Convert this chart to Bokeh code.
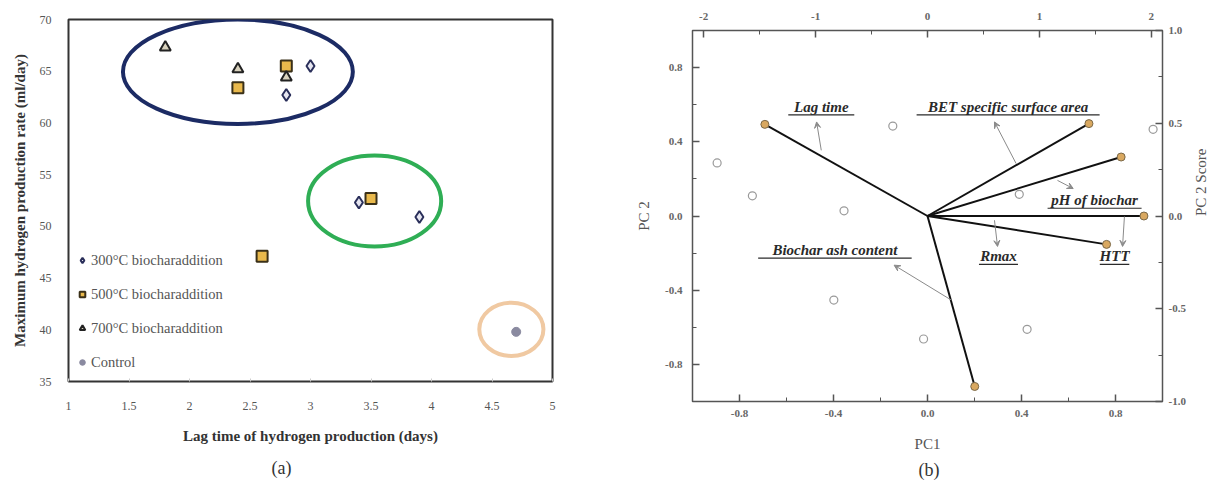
import math
from bokeh.plotting import figure
from bokeh.layouts import row
from bokeh.models import Range1d, LinearAxis, FixedTicker, Legend, LegendItem, Title, Arrow, VeeHead, ColumnDataSource
from bokeh.embed import file_html
from bokeh.resources import INLINE
from bokeh.core.properties import value

SERIF = "Liberation Serif"

# ---------------- panel (a) data ----------------
a_x_ticks = [1, 1.5, 2, 2.5, 3, 3.5, 4, 4.5, 5]
a_x_tick_labels = ["1", "1.5", "2", "2.5", "3", "3.5", "4", "4.5", "5"]
a_y_ticks = [35, 40, 45, 50, 55, 60, 65, 70]
a_y_tick_labels = ["35", "40", "45", "50", "55", "60", "65", "70"]

t300_lag = [3.0, 2.8, 3.4, 3.9]
t300_rmax = [65.5, 62.7, 52.3, 50.9]
t500_lag = [2.8, 2.4, 3.5, 2.6]
t500_rmax = [65.5, 63.4, 52.7, 47.1]
t700_lag = [1.8, 2.4, 2.8]
t700_rmax = [67.3, 65.2, 64.4]
control_lag = [4.7]
control_rmax = [39.8]

series_names = ["300°C biocharaddition", "500°C biocharaddition", "700°C biocharaddition", "Control"]

ellipse_x = [2.40, 3.53, 4.66]
ellipse_y = [64.95, 52.45, 40.05]
ellipse_w = [1.90, 1.10, 0.53]
ellipse_h = [10.1, 8.8, 5.15]
ellipse_colors = ["#1c2b64", "#2fae55", "#f0c9a2"]

# ---------------- panel (b) data ----------------
pc_ticks = [-0.8, -0.4, 0, 0.4, 0.8]
pc_tick_labels = ["-0.8", "-0.4", "0.0", "0.4", "0.8"]
pc_minor = [-1.0, -0.6, -0.2, 0.2, 0.6, 1.0]
top_ticks = [-2, -1, 0, 1, 2]
top_tick_labels = ["-2", "-1", "0", "1", "2"]
top_minor = [-1.5, -0.5, 0.5, 1.5]
right_ticks = [-1.0, -0.5, 0, 0.5, 1.0]
right_tick_labels = ["-1.0", "-0.5", "0.0", "0.5", "1.0"]
right_minor = [-0.75, -0.25, 0.25, 0.75]

var_names = ["Lag time", "BET specific surface area", "pH of biochar", "HTT", "Rmax", "Biochar ash content"]
load_pc1 = [-0.692, 0.687, 0.824, 0.921, 0.762, 0.201]
load_pc2 = [0.494, 0.498, 0.318, 0.0, -0.153, -0.919]

score_pc1 = [-1.88, -1.565, -0.746, -0.31, -0.837, -0.035, 0.82, 0.89, 2.016]
score_pc2 = [0.286, 0.109, 0.028, 0.485, -0.453, -0.663, 0.117, -0.611, 0.467]

label_x = [-0.452, 0.343, 0.711, 0.796, 0.302, -0.394]
label_y = [0.588, 0.588, 0.085, -0.218, -0.218, -0.184]
label_px_width = [66, 183, 94, 29.5, 39, 153.5]
arrow_x0 = [-0.452, 0.377, 0.553, 0.838, 0.285, 0.101]
arrow_y0 = [0.354, 0.283, 0.192, -0.003, -0.023, -0.453]
arrow_x1 = [-0.472, 0.285, 0.620, 0.830, 0.298, -0.142]
arrow_y1 = [0.507, 0.507, 0.148, -0.164, -0.164, -0.265]


def no_align(p):
    if hasattr(p, "frame_align"):
        p.frame_align = False


# ================= panel (a) =================
A_FW, A_FH = 484, 362
pa = figure(frame_width=A_FW, frame_height=A_FH, x_range=Range1d(1, 5), y_range=Range1d(35, 70),
            output_backend="svg", toolbar_location=None,
            min_border_left=68, min_border_right=56, min_border_top=19, min_border_bottom=100)
no_align(pa)
pa.grid.visible = False
pa.outline_line_color = "#333333"
pa.outline_line_width = 2

a_xaxis = pa.below[0]
a_yaxis = pa.left[0]
a_xaxis.ticker = FixedTicker(ticks=a_x_ticks, minor_ticks=[])
a_xaxis.major_label_overrides = {t: s for t, s in zip(a_x_ticks, a_x_tick_labels)}
a_yaxis.ticker = FixedTicker(ticks=a_y_ticks, minor_ticks=[])
a_yaxis.major_label_overrides = {t: s for t, s in zip(a_y_ticks, a_y_tick_labels)}
for ax in (a_xaxis, a_yaxis):
    ax.axis_line_color = None
    ax.major_tick_out = 0
    ax.major_tick_in = 3
    ax.major_tick_line_color = "#cccccc"
    ax.minor_tick_line_color = None
    ax.major_label_text_font = SERIF
    ax.major_label_text_font_size = "12px"
    ax.major_label_text_color = "#555555"
    ax.axis_label_text_font = SERIF
    ax.axis_label_text_font_style = "bold"
    ax.axis_label_text_font_size = "15px"
    ax.axis_label_text_color = "#333333"
a_yaxis.major_tick_line_color = None
a_xaxis.axis_label = "Lag time of hydrogen production (days)"
a_yaxis.axis_label = "Maximum hydrogen production rate (ml/day)"
a_xaxis.major_label_standoff = 20
a_xaxis.axis_label_standoff = 15
a_yaxis.major_label_standoff = 17
a_yaxis.axis_label_standoff = 9

pa.ellipse(x=ellipse_x, y=ellipse_y, width=ellipse_w, height=ellipse_h,
           fill_color=None, line_color=ellipse_colors, line_width=4)

r300 = pa.scatter(t300_lag, t300_rmax, marker="diamond", size=12, fill_color="#e6e6f0",
                  line_color="#2a2f5a", line_width=2)
r500 = pa.scatter(t500_lag, t500_rmax, marker="square", size=11, fill_color="#e9b94c",
                  line_color="#3a3018", line_width=2)
r700 = pa.scatter(t700_lag, t700_rmax, marker="triangle", size=11, fill_color="#d9d2bd",
                  line_color="#222222", line_width=2)
rctl = pa.scatter(control_lag, control_rmax, marker="circle", size=9, fill_color="#8a8aa0",
                  line_color="#8a8aa0", line_width=1)

legend = Legend(items=[LegendItem(label=n, renderers=[r]) for n, r in
                       zip(series_names, [r300, r500, r700, rctl])],
                location=(7, 9), orientation="vertical")
legend.background_fill_alpha = 0
legend.border_line_color = None
legend.padding = 0
legend.margin = 0
legend.spacing = 14
legend.glyph_width = 14
legend.glyph_height = 20
legend.label_standoff = 2
legend.label_text_font = SERIF
legend.label_text_font_size = "14.5px"
legend.label_text_color = "#555555"
pa.add_layout(legend, "center")

cap_a = Title(text="(a)", align="left", offset=203, standoff=19, text_font=SERIF,
              text_font_size="18px", text_font_style="normal", text_color="#333333")
pa.add_layout(cap_a, "below")

# ================= panel (b) =================
B_FW, B_FH = 470, 371
pb = figure(frame_width=B_FW, frame_height=B_FH, x_range=Range1d(-1, 1), y_range=Range1d(-1, 1),
            output_backend="svg", toolbar_location=None,
            min_border_left=84, min_border_right=54, min_border_top=30, min_border_bottom=79)
no_align(pb)
pb.grid.visible = False
pb.outline_line_color = "#555555"
pb.outline_line_width = 1.5
bottom_axis = pb.below[0]
left_axis = pb.left[0]
pb.extra_x_ranges = {"score_x": Range1d(-2.1, 2.1)}
pb.extra_y_ranges = {"score_y": Range1d(-1, 1)}
top_axis = LinearAxis(x_range_name="score_x")
right_axis = LinearAxis(y_range_name="score_y")
pb.add_layout(top_axis, "above")
pb.add_layout(right_axis, "right")

bottom_axis.ticker = FixedTicker(ticks=pc_ticks, minor_ticks=pc_minor)
left_axis.ticker = FixedTicker(ticks=pc_ticks, minor_ticks=pc_minor)
top_axis.ticker = FixedTicker(ticks=top_ticks, minor_ticks=top_minor)
right_axis.ticker = FixedTicker(ticks=right_ticks, minor_ticks=right_minor)
bottom_axis.major_label_overrides = {t: s for t, s in zip(pc_ticks, pc_tick_labels)}
left_axis.major_label_overrides = {t: s for t, s in zip(pc_ticks, pc_tick_labels)}
top_axis.major_label_overrides = {t: s for t, s in zip(top_ticks, top_tick_labels)}
right_axis.major_label_overrides = {t: s for t, s in zip(right_ticks, right_tick_labels)}

for ax in (bottom_axis, left_axis, top_axis, right_axis):
    ax.axis_line_color = None
    ax.major_tick_out = 0
    ax.major_tick_in = 7
    ax.minor_tick_out = 0
    ax.minor_tick_in = 4
    ax.major_tick_line_color = "#555555"
    ax.minor_tick_line_color = "#555555"
    ax.major_tick_line_width = 1.5
    ax.major_label_text_font = SERIF
    ax.major_label_text_font_size = "11px"
    ax.major_label_text_font_style = "bold"
    ax.major_label_text_color = "#666666"
    ax.axis_label_text_font = SERIF
    ax.axis_label_text_font_size = "15px"
    ax.axis_label_text_font_style = "normal"
    ax.axis_label_text_color = "#555555"

bottom_axis.axis_label = "PC1"
left_axis.axis_label = "PC 2"
right_axis.axis_label = "PC 2 Score"
if hasattr(right_axis, "axis_label_orientation"):
    right_axis.axis_label_orientation = math.pi / 2
bottom_axis.major_label_standoff = 8
bottom_axis.axis_label_standoff = 16
left_axis.major_label_standoff = 10
left_axis.axis_label_standoff = 10
top_axis.major_label_standoff = 11
right_axis.major_label_standoff = 6
right_axis.axis_label_standoff = 12

# score points
pb.scatter(score_pc1, score_pc2, x_range_name="score_x", y_range_name="score_y",
           marker="circle", size=8, fill_color=None, line_color="#9a9a9a", line_width=1.2)

# loading vectors
n = len(load_pc1)
pb.segment(x0=[0] * n, y0=[0] * n, x1=load_pc1, y1=load_pc2, line_color="#111111", line_width=2)
pb.scatter(load_pc1, load_pc2, marker="circle", size=8, fill_color="#d9a860",
           line_color="#7a6848", line_width=1)

# annotation arrows
asrc = ColumnDataSource(dict(x0=arrow_x0, y0=arrow_y0, x1=arrow_x1, y1=arrow_y1))
pb.add_layout(Arrow(end=VeeHead(size=6, line_color="#8a8a8a", fill_color="#8a8a8a", line_width=1),
                    x_start="x0", y_start="y0", x_end="x1", y_end="y1", source=asrc,
                    line_color="#8a8a8a", line_width=1))

# variable labels with underline
pb.text(x=label_x, y=label_y, text=var_names, text_font=value(SERIF),
        text_font_style="bold italic", text_font_size="15px", text_color="#2a2a2a",
        text_align="center", text_baseline="middle")
px_x = 2.0 / B_FW
px_y = 2.0 / B_FH
ul_x0 = [x - w / 2 * px_x for x, w in zip(label_x, label_px_width)]
ul_x1 = [x + w / 2 * px_x for x, w in zip(label_x, label_px_width)]
ul_y = [y - 8 * px_y for y in label_y]
pb.segment(x0=ul_x0, y0=ul_y, x1=ul_x1, y1=ul_y, line_color="#2a2a2a", line_width=1.2)

cap_b = Title(text="(b)", align="left", offset=226, standoff=6, text_font=SERIF,
              text_font_size="18px", text_font_style="normal", text_color="#333333")
pb.add_layout(cap_b, "below")

layout = row(pa, pb)
open("out.html", "w").write(file_html(layout, INLINE))
